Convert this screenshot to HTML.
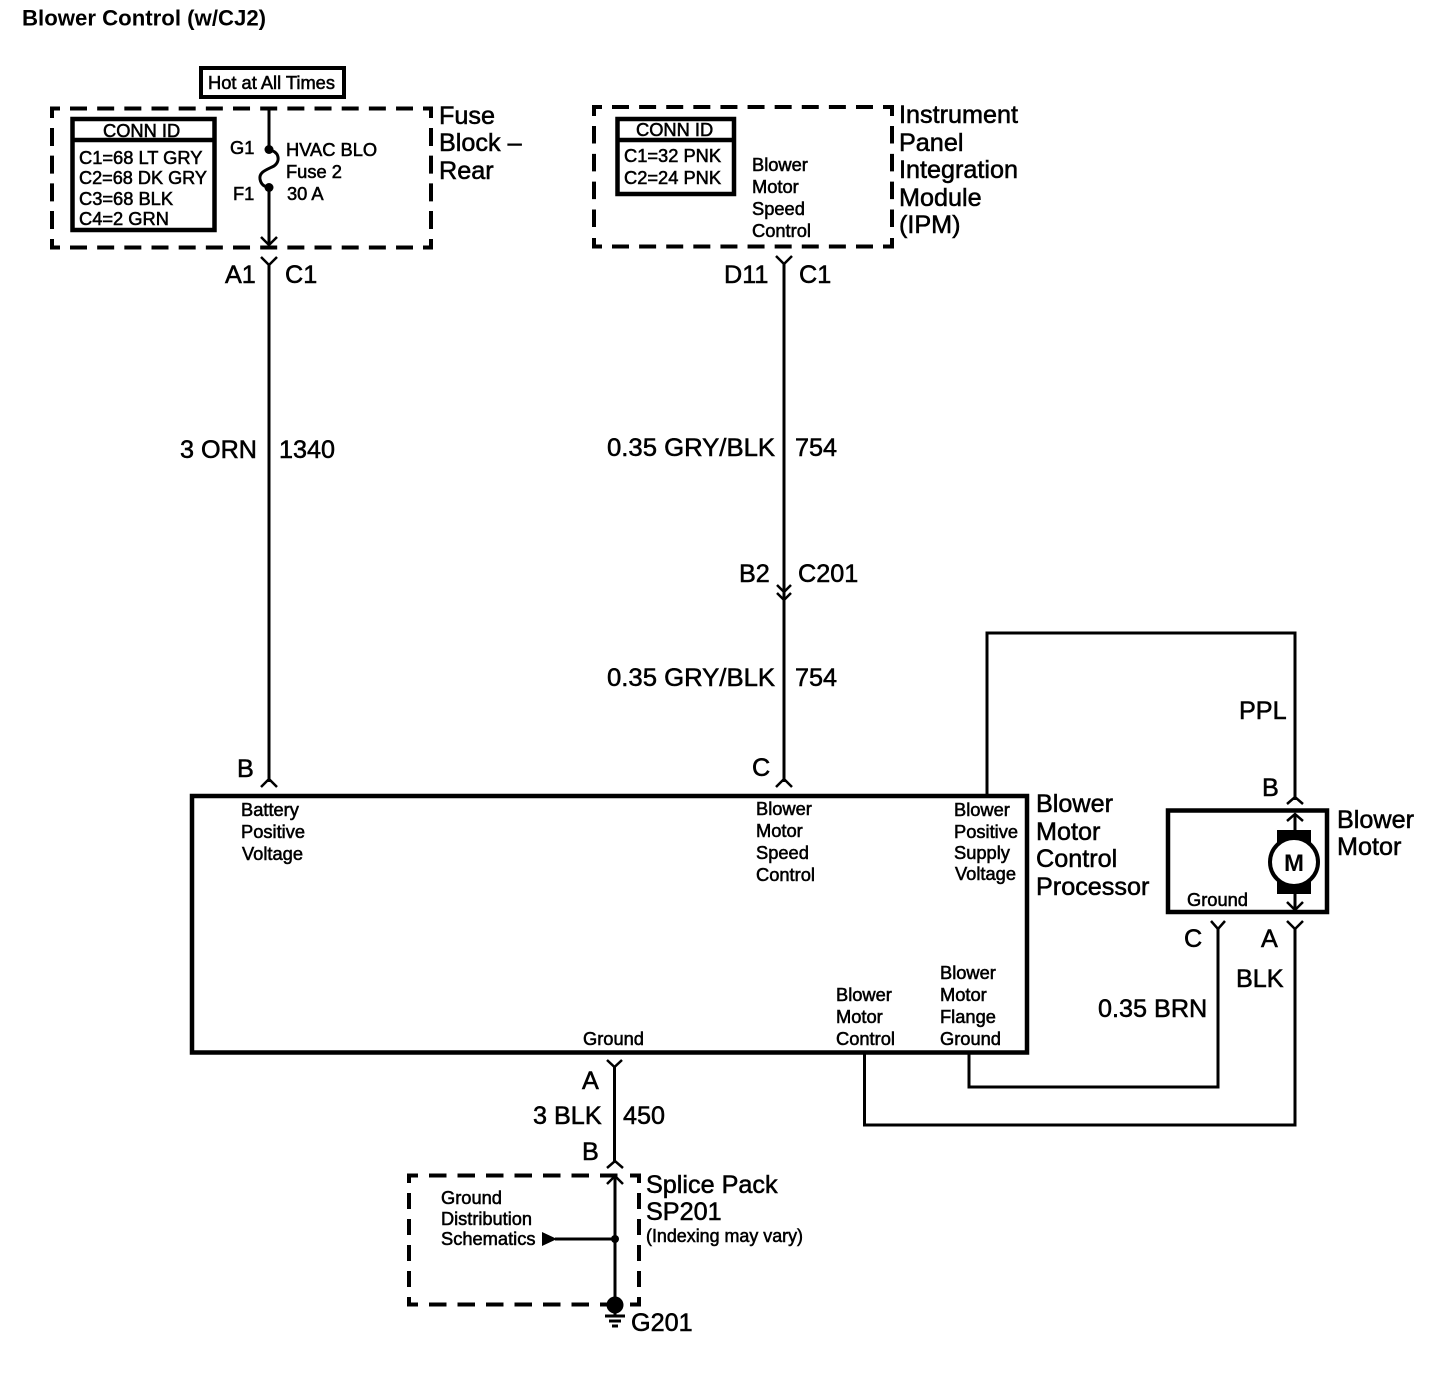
<!DOCTYPE html>
<html><head><meta charset="utf-8"><style>
html,body{margin:0;padding:0;background:#fff}
svg{display:block}
text{font-family:"Liberation Sans",sans-serif;fill:#000;stroke:#000;stroke-width:.55px;white-space:pre}
.l{font-size:25.2px}.m{font-size:18.3px}.t{font-size:22.2px;font-weight:bold;stroke-width:0}
.w{fill:none;stroke:#000;stroke-width:3}
.b{fill:none;stroke:#000;stroke-width:4}
.c{fill:none;stroke:#000;stroke-width:4.5}
.a{fill:none;stroke:#000;stroke-width:2.5}
</style></head><body>
<svg width="1440" height="1376" viewBox="0 0 1440 1376" xmlns="http://www.w3.org/2000/svg">
<rect width="1440" height="1376" fill="#fff"/>
<text class="t" x="22" y="25.5">Blower Control (w/CJ2)</text>

<!-- Hot at all times -->
<rect class="b" x="201" y="68" width="143" height="29"/>
<text class="m" x="208" y="89">Hot at All Times</text>

<!-- Fuse block dashed frame -->
<path class="b" d="M52 118 V108.5 H60 M423 108.5 H431 V118 M52 239 V247.5 H60 M423 247.5 H431 V239"/>
<line class="b" x1="70" y1="108.5" x2="413" y2="108.5" stroke-dasharray="17 10.17"/>
<line class="b" x1="70" y1="247.5" x2="413" y2="247.5" stroke-dasharray="17 10.17"/>
<line class="b" x1="52" y1="128" x2="52" y2="229" stroke-dasharray="18 9.67"/>
<line class="b" x1="431" y1="128" x2="431" y2="229" stroke-dasharray="18 9.67"/>

<rect class="c" x="72.5" y="119" width="142" height="111"/>
<line class="c" x1="72.5" y1="140" x2="214.5" y2="140"/>
<text class="m" x="103" y="137">CONN ID</text>
<text class="m" x="79" y="164">C1=68 LT GRY</text>
<text class="m" x="79" y="184" textLength="128" lengthAdjust="spacingAndGlyphs">C2=68 DK GRY</text>
<text class="m" x="79" y="205">C3=68 BLK</text>
<text class="m" x="79" y="225">C4=2 GRN</text>
<line class="w" x1="269" y1="108" x2="269" y2="150"/>
<circle cx="269" cy="149.5" r="4.5"/>
<path class="w" d="M269 150 C279 151 281 161 274 166 C266 170 259 172 260 179 C261 185 265 187 269 187"/>
<circle cx="269" cy="187.5" r="4.5"/>
<line class="w" x1="269" y1="187" x2="269" y2="245"/>
<path class="a" d="M261 237 L269 245 L277 237"/>
<text class="m" x="230" y="154">G1</text>
<text class="m" x="233" y="200">F1</text>
<text class="m" x="286" y="156">HVAC BLO</text>
<text class="m" x="286" y="178">Fuse 2</text>
<text class="m" x="287" y="200">30 A</text>
<text class="l" x="439" y="124">Fuse</text>
<text class="l" x="439" y="151">Block –</text>
<text class="l" x="439" y="179">Rear</text>

<path class="a" d="M261 257 L269 265 L277 257"/>
<line class="w" x1="269" y1="264" x2="269" y2="782"/>
<path class="a" d="M261 787 L269 779 L277 787"/>
<text class="l" x="225" y="283">A1</text>
<text class="l" x="285" y="283">C1</text>
<text class="l" x="180" y="458">3 ORN</text>
<text class="l" x="279" y="458">1340</text>
<text class="l" x="237" y="777">B</text>

<!-- IPM dashed frame -->
<path class="b" d="M594 116 V107 H602 M883 107 H892 V116 M594 238 V246.5 H602 M883 246.5 H892 V238"/>
<line class="b" x1="612" y1="107" x2="873" y2="107" stroke-dasharray="17 10.11"/>
<line class="b" x1="612" y1="246.5" x2="873" y2="246.5" stroke-dasharray="17 10.11"/>
<line class="b" x1="594" y1="126" x2="594" y2="227" stroke-dasharray="17.5 10.33"/>
<line class="b" x1="892" y1="126" x2="892" y2="227" stroke-dasharray="17.5 10.33"/>

<rect class="c" x="617.5" y="119" width="116.5" height="75"/>
<line class="c" x1="617.5" y1="140" x2="734" y2="140"/>
<text class="m" x="636" y="136">CONN ID</text>
<text class="m" x="624" y="162">C1=32 PNK</text>
<text class="m" x="624" y="184">C2=24 PNK</text>
<text class="m" x="752" y="171">Blower</text>
<text class="m" x="752" y="193">Motor</text>
<text class="m" x="752" y="215">Speed</text>
<text class="m" x="752" y="237">Control</text>
<text class="l" x="899" y="123">Instrument</text>
<text class="l" x="899" y="151">Panel</text>
<text class="l" x="899" y="178">Integration</text>
<text class="l" x="899" y="206">Module</text>
<text class="l" x="899" y="233">(IPM)</text>

<path class="a" d="M776 256 L784 264 L792 256"/>
<line class="w" x1="784" y1="263" x2="784" y2="598"/>
<text class="l" x="724" y="283">D11</text>
<text class="l" x="799" y="283">C1</text>
<text class="l" x="607" y="456" textLength="168" lengthAdjust="spacingAndGlyphs">0.35 GRY/BLK</text>
<text class="l" x="795" y="456">754</text>
<text class="l" x="739" y="582">B2</text>
<text class="l" x="798" y="582">C201</text>
<path class="a" d="M777 585 L784 592 L791 585"/>
<path class="a" d="M777 593 L784 600 L791 593"/>
<line class="w" x1="784" y1="598" x2="784" y2="782"/>
<text class="l" x="607" y="686" textLength="168" lengthAdjust="spacingAndGlyphs">0.35 GRY/BLK</text>
<text class="l" x="795" y="686">754</text>
<text class="l" x="752" y="776">C</text>
<path class="a" d="M776 787 L784 779 L792 787"/>

<!-- Processor -->
<rect class="c" x="192" y="796" width="835" height="256.5"/>
<text class="m" x="241" y="816">Battery</text>
<text class="m" x="241" y="838">Positive</text>
<text class="m" x="242" y="860">Voltage</text>
<text class="m" x="756" y="815">Blower</text>
<text class="m" x="756" y="837">Motor</text>
<text class="m" x="756" y="859">Speed</text>
<text class="m" x="756" y="881">Control</text>
<text class="m" x="954" y="816">Blower</text>
<text class="m" x="954" y="838">Positive</text>
<text class="m" x="954" y="859">Supply</text>
<text class="m" x="955" y="880">Voltage</text>
<text class="m" x="940" y="979">Blower</text>
<text class="m" x="940" y="1001">Motor</text>
<text class="m" x="940" y="1023">Flange</text>
<text class="m" x="940" y="1045">Ground</text>
<text class="m" x="836" y="1001">Blower</text>
<text class="m" x="836" y="1023">Motor</text>
<text class="m" x="836" y="1045">Control</text>
<text class="m" x="583" y="1045">Ground</text>
<text class="l" x="1036" y="812">Blower</text>
<text class="l" x="1036" y="840">Motor</text>
<text class="l" x="1036" y="867">Control</text>
<text class="l" x="1036" y="895">Processor</text>

<!-- Wires right -->
<path class="w" d="M987 796 V633 H1295 V800"/>
<path class="a" d="M1287 804 L1295 797 L1303 804"/>
<text class="l" x="1239" y="719">PPL</text>
<text class="l" x="1262" y="796">B</text>

<!-- Blower motor -->
<rect class="c" x="1168" y="810.5" width="159" height="101.5"/>
<rect x="1277" y="830" width="34" height="64" fill="#000"/>
<circle cx="1294" cy="862" r="24" fill="#fff" stroke="#000" stroke-width="4"/>
<text x="1294" y="871" text-anchor="middle" style="font-size:24px;font-weight:bold;stroke-width:0">M</text>
<line class="w" x1="1295" y1="815" x2="1295" y2="830"/>
<path class="a" d="M1287 821 L1295 814 L1303 821"/>
<line class="w" x1="1295" y1="894" x2="1295" y2="910"/>
<path class="a" d="M1287 902 L1295 910 L1303 902"/>
<text class="m" x="1187" y="906">Ground</text>
<text class="l" x="1337" y="828">Blower</text>
<text class="l" x="1337" y="855">Motor</text>
<path class="a" d="M1211 921 L1218 929 L1225 921"/>
<path class="a" d="M1287 921 L1295 929 L1303 921"/>
<text class="l" x="1184" y="947">C</text>
<text class="l" x="1261" y="947">A</text>
<text class="l" x="1236" y="987">BLK</text>
<text class="l" x="1098" y="1017">0.35 BRN</text>
<path class="w" d="M1218 928 V1087 H969 V1052"/>
<path class="w" d="M1295 928 V1125 H864.5 V1052"/>

<!-- Ground -->
<path class="a" d="M607 1060 L614.5 1067 L622 1060"/>
<line class="w" x1="614.5" y1="1066" x2="614.5" y2="1163"/>
<text class="l" x="582" y="1089">A</text>
<text class="l" x="533" y="1124">3 BLK</text>
<text class="l" x="623" y="1124">450</text>
<text class="l" x="582" y="1160">B</text>
<path class="a" d="M607 1168 L615 1161 L623 1168"/>

<!-- Splice pack dashed frame -->
<path class="b" d="M409 1183 V1175.5 H418 M630 1175.5 H639 V1183 M409 1297 V1304.5 H418 M630 1304.5 H639 V1297"/>
<line class="b" x1="429" y1="1175.5" x2="618" y2="1175.5" stroke-dasharray="17.5 11"/>
<line class="b" x1="429" y1="1304.5" x2="618" y2="1304.5" stroke-dasharray="17.5 11"/>
<line class="b" x1="409" y1="1193" x2="409" y2="1287" stroke-dasharray="16 10"/>
<line class="b" x1="639" y1="1193" x2="639" y2="1287" stroke-dasharray="16 10"/>
<line class="w" x1="615" y1="1176" x2="615" y2="1304"/>
<path class="a" d="M607 1184 L615 1176 L623 1184"/>
<circle cx="615" cy="1239" r="4"/>
<line class="w" x1="555" y1="1239" x2="615" y2="1239"/>
<path d="M542 1232 L557 1239 L542 1246 Z"/>
<circle cx="615" cy="1305" r="8.5"/>
<line class="w" x1="615" y1="1305" x2="615" y2="1316"/>
<line class="w" x1="605" y1="1316" x2="625" y2="1316"/>
<line class="w" x1="609" y1="1321" x2="621" y2="1321"/>
<line class="w" x1="612" y1="1326" x2="618" y2="1326"/>
<text class="m" x="441" y="1204">Ground</text>
<text class="m" x="441" y="1225" textLength="91" lengthAdjust="spacingAndGlyphs">Distribution</text>
<text class="m" x="441" y="1245">Schematics</text>
<text class="l" x="646" y="1193">Splice Pack</text>
<text class="l" x="646" y="1220">SP201</text>
<text class="m" x="646" y="1242" textLength="157" lengthAdjust="spacingAndGlyphs">(Indexing may vary)</text>
<text class="l" x="631" y="1331">G201</text>
</svg>
</body></html>
